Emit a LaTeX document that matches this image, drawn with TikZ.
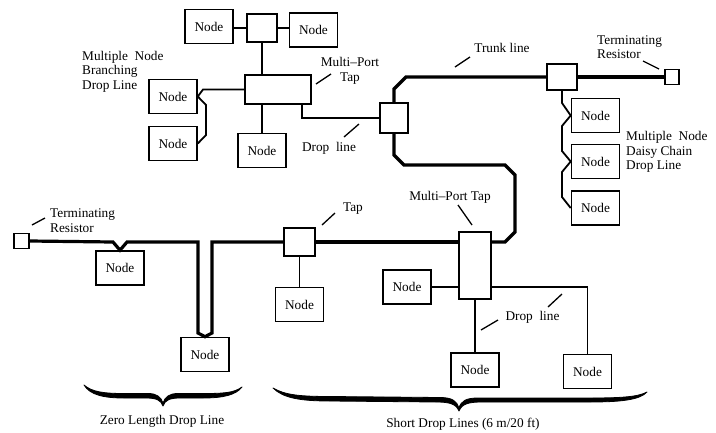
\documentclass[tikz,border=0pt]{standalone}
\usepackage{fontspec}
\setmainfont{Liberation Serif}
\begin{document}
\begin{tikzpicture}[x=1pt,y=-1pt,
  every node/.style={font=\fontsize{13.3}{14.6}\selectfont},
  box/.style={draw, line width=1.6pt, minimum width=48pt, minimum height=34pt, inner sep=0pt},
  tapbox/.style={draw, line width=1.6pt, inner sep=0pt},
  trunk/.style={line width=3.2pt, line join=miter},
  drop/.style={line width=1.8pt},
  thindrop/.style={line width=1.4pt},
  leader/.style={line width=1.3pt},
  lbl/.style={inner sep=0pt, align=left},
  clbl/.style={inner sep=0pt, align=center}]
\useasboundingbox (0,0) rectangle (716,432);

% nodes and taps
\node[box] (nA) at (209,26.5) {Node};
\node[tapbox, minimum width=30pt, minimum height=28pt] (tapA) at (262,28) {};
\node[box] (nB) at (313.5,30) {Node};
\node[tapbox, minimum width=66pt, minimum height=29pt] (mpA) at (278,89.5) {};
\node[box] (nC) at (173,96.5) {Node};
\node[box] (nD) at (173,143.5) {Node};
\node[box] (nE) at (262,150.5) {Node};
\node[tapbox, minimum width=28pt, minimum height=30pt] (tap1) at (394,118) {};
\node[tapbox, minimum width=30pt, minimum height=26pt] (tap2) at (562,77) {};
\node[tapbox, minimum width=14pt, minimum height=15pt] (resR) at (672,77) {};
\node[box] (nd1) at (595.5,115.5) {Node};
\node[box] (nd2) at (595.5,161.5) {Node};
\node[box] (nd3) at (595.5,208) {Node};
\node[tapbox, minimum width=32pt, minimum height=67pt] (mpB) at (475,265.5) {};
\node[box] (nS1) at (407,287) {Node};
\node[box] (nS2) at (475,370) {Node};
\node[box] (nS3) at (587.5,371.5) {Node};
\node[tapbox, minimum width=15pt, minimum height=15pt] (resL) at (21.5,241) {};
\node[box] (nZ1) at (120,268) {Node};
\node[box] (nZ2) at (205,354.5) {Node};
\node[tapbox, minimum width=31pt, minimum height=28pt] (tapT) at (299.5,242) {};
\node[box] (nT1) at (299.5,304.5) {Node};

% trunk
\coordinate (tk) at (505,242);
\draw[trunk] (tap1.north) -- (394,89) -- (406,77) -- (tap2.west);
\draw[trunk] (tap2.east) -- (resR.west);
\draw[trunk] (tap1.south) -- (394,155) -- (404,165) -- (505,165) -- (515,175) -- (515,232) -- (tk) -- (tk -| mpB.east);
\draw[trunk] (tapT.east) -- (tapT.east -| mpB.west);
\draw[trunk] (tapT.west) -- (212,242) -- (212,333) -- (nZ2.north) -- (198,333) -- (198,242)
  -- (127,242) -- (nZ1.north) -- (113,242) -- (resL.east);

% drop lines
\draw[drop] (tapA.west) -- (tapA.west -| nA.east);
\draw[drop] (tapA.east) -- (tapA.east -| nB.west);
\draw[drop] (tapA.south) -- (mpA.north -| tapA.south);
\draw[drop] (mpA.west) -- (203,89.5) -- (nC.east) -- (206,105) -- (206,135) -- (nD.east);
\draw[drop] (mpA.south -| nE.north) -- (nE.north);
\draw[drop] ([xshift=-10pt]mpA.south east) |- (tap1.west);
\draw[drop] (tap2.south) -- (562,103) -- (nd1.west) -- (562,126) -- (562,151) -- (nd2.west)
  -- (562,172) -- (562,197) -- (nd3.west);
\draw[thindrop] (tapT.south) -- (nT1.north);
\draw[thindrop] (nS1.east) -- (nS1.east -| mpB.west);
\draw[thindrop] (mpB.south) -- (nS2.north);
\draw[thindrop] (nS1.east -| mpB.east) -| (nS3.north);

% leaders
\draw[leader] (316,84) -- (331,74);
\draw[leader] (344,137) -- (359,124);
\draw[leader] (455,67) -- (470,57);
\draw[leader] (643,61) -- (659,69);
\draw[leader] (458,205) -- (472,225);
\draw[leader] (481,330) -- (498,320);
\draw[leader] (548,307) -- (562,294);
\draw[leader] (322,225) -- (335,213);
\draw[leader] (32,225) -- (45,218);

% labels
\node[lbl, anchor=west] (lbBranch) at (82,71.5) {Multiple~ Node\\Branching\\Drop Line};
\node[clbl] (lbMP1) at (350,70.5) {Multi--Port\\Tap};
\node[clbl] (lbDL1) at (329,148) {Drop~ line};
\node[clbl] (lbTrunk) at (502,48) {Trunk line};
\node[lbl, anchor=west] (lbTR1) at (597,47) {Terminating\\Resistor};
\node[lbl, anchor=west] (lbDaisy) at (626,152) {Multiple~ Node\\Daisy Chain\\Drop Line};
\node[clbl] (lbMP2) at (450,197) {Multi--Port Tap};
\node[clbl] (lbTap) at (353,209) {Tap};
\node[lbl, anchor=west] (lbTR2) at (50,220.5) {Terminating\\Resistor};
\node[clbl] (lbDL2) at (532.5,317) {Drop~ line};
\node[clbl] (lbZero) at (162,421) {Zero Length Drop Line};
\node[clbl] (lbShort) at (463,424) {Short Drop Lines (6 m/20 ft)};

% braces
\filldraw[line width=0.8pt, line join=round] (84,385) .. controls (92,392) and (104,393.5) .. (124,393.5) -- (148,393.5)
  .. controls (157,393.5) and (161,397) .. (163,403)
  .. controls (165,397) and (169,393.5) .. (178,393.5) -- (203,393.5)
  .. controls (223,393.5) and (234,393) .. (242,387)
  .. controls (236,395) and (223,398) .. (203,398) -- (180,398)
  .. controls (170,398) and (165,400) .. (163,406)
  .. controls (161,400) and (156,398) .. (146,398) -- (124,398)
  .. controls (104,398) and (90,395) .. (84,385) -- cycle;
\filldraw[line width=0.8pt, line join=round] (273,388) .. controls (285,395) and (300,396.5) .. (330,396.5) -- (440,397.5)
  .. controls (452,397.5) and (457,401) .. (459,408)
  .. controls (461,401) and (466,398) .. (478,398) -- (590,398)
  .. controls (620,398) and (638,397) .. (647,392)
  .. controls (640,400) and (620,402) .. (590,402) -- (482,402)
  .. controls (468,402) and (462,404) .. (459,411)
  .. controls (456,404) and (450,402) .. (436,402) -- (330,401)
  .. controls (300,401) and (283,398) .. (273,388) -- cycle;
\end{tikzpicture}
\end{document}
